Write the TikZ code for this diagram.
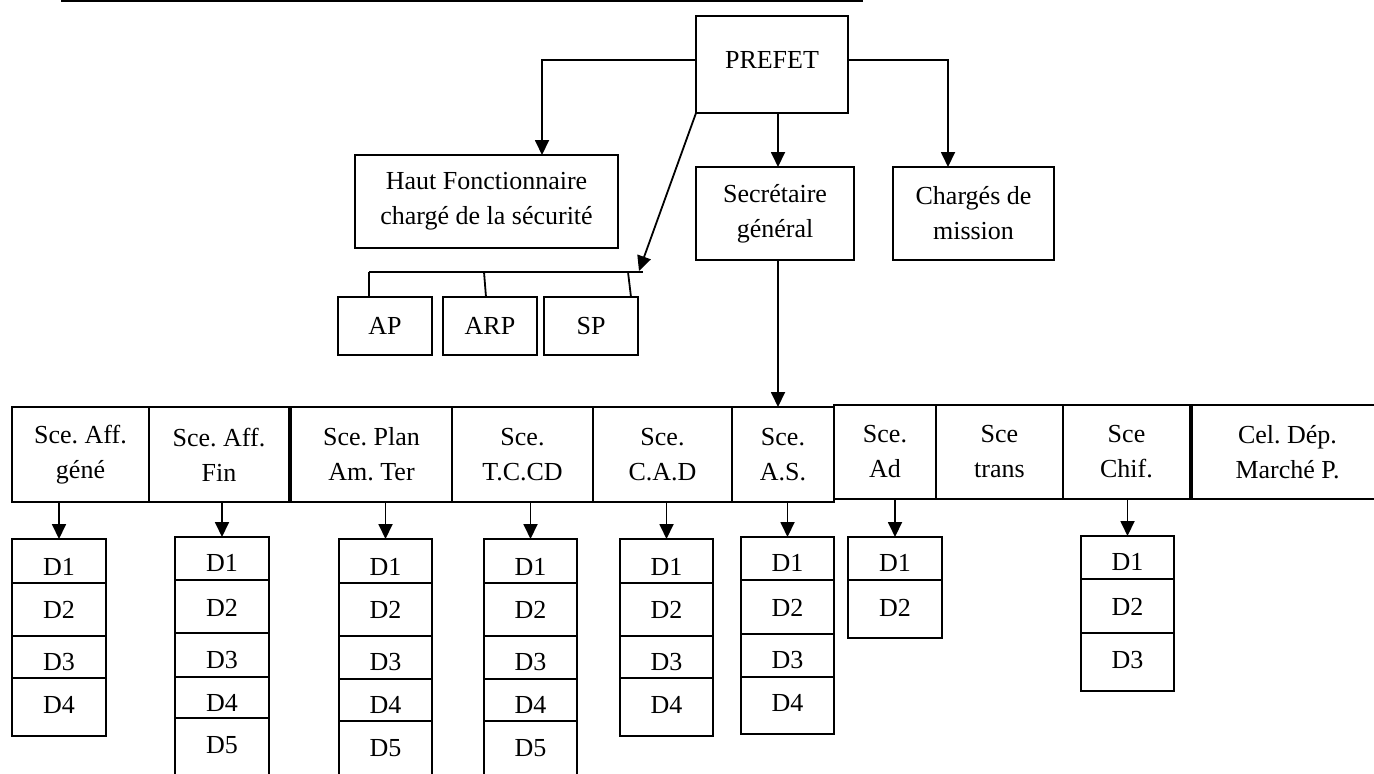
\documentclass[tikz,border=0pt]{standalone}
\usepackage{fontspec}
\setmainfont{Liberation Serif}
\usetikzlibrary{arrows.meta}
\frenchspacing
\tikzset{
  box/.style={draw, line width=0.9pt, inner sep=0pt, outer sep=0pt, align=center, font=\fontsize{13}{17.5}\selectfont\frenchspacing},
  lbl/.style={inner sep=0pt, outer sep=0pt, font=\fontsize{13}{17.5}\selectfont},
  conn/.style={line width=0.9pt},
  arr/.style={conn, -{Triangle[width=7pt,length=7.5pt]}},
}
% name, x1, y1, x2, y2, text   (coordinates in pixels)
\newcommand\bx[6]{%
  \pgfmathsetmacro\bxw{(#4-#2)*0.5}%
  \pgfmathsetmacro\bxh{(#5-#3)*0.5}%
  \node[box, minimum width=\bxw pt, minimum height=\bxh pt] (#1) at ({(#2+#4)/2},{(#3+#5)/2}) {#6};}
% name, x1, y1, x2, y2, text y, text
\newcommand\dcell[7]{%
  \bx{#1}{#2}{#3}{#4}{#5}{}%
  \node[lbl] (#1t) at ({(#2+#4)/2},#6) {#7};}
\begin{document}
\begin{tikzpicture}[x=0.5pt,y=-0.5pt]
\useasboundingbox (0,0) rectangle (1374,773);
\clip (0,0) rectangle (1374,773);

% title rule
\draw[conn] (61,1) -- (863,1);

% top level
\bx{prefet}{696}{16}{848}{113}{}
\node[lbl] (prefett) at (772,60) {PREFET};
\bx{haut}{355}{155}{618}{248}{Haut Fonctionnaire\\chargé de la sécurité}
\bx{sg}{696}{167}{854}{260}{Secrétaire\\général}
\bx{charges}{893}{167}{1054}{260}{Chargés de\\mission}
\bx{ap}{338}{297}{432}{355}{AP}
\bx{arp}{443}{297}{537}{355}{ARP}
\bx{sp}{544}{297}{638}{355}{SP}

\coordinate (hl) at (542,60);
\coordinate (hr) at (948,60);
\coordinate (mx) at (778,0);
\coordinate (barL) at (369,272);
\coordinate (barR) at (643,272);
\coordinate (barM) at (484,272);
\coordinate (barS) at (628,272);
\coordinate (bartip) at (639,271);

\draw[arr] (prefet.west |- hl) -| (hl |- haut.north);
\draw[arr] (prefet.east |- hr) -| (hr |- charges.north);
\draw[arr] (mx |- prefet.south) -- (mx |- sg.north);
\draw[arr] (prefet.south west) -- (bartip);
\draw[conn] (barL) -- (barR);
\draw[conn] (barL) -- (barL |- ap.north);
\draw[conn] (barM) -- (486,297);
\draw[conn] (barS) -- (631,297);

% services row
\bx{b1}{12}{407}{149}{502}{Sce. Aff.\\géné}
\bx{b2}{149}{407}{289}{502}{Sce. Aff.\\Fin}
\bx{b3}{291}{407}{452}{502}{Sce. Plan\\Am. Ter}
\bx{b4}{452}{407}{593}{502}{Sce.\\T.C.CD}
\bx{b5}{593}{407}{732}{502}{Sce.\\C.A.D}
\bx{b6}{732}{407}{834}{502}{Sce.\\A.S.}
\bx{b7}{834}{405}{936}{499}{Sce.\\Ad}
\bx{b8}{936}{405}{1063}{499}{Sce\\trans}
\bx{b9}{1063}{405}{1190}{499}{Sce\\Chif.}
\bx{b10}{1192}{405}{1383}{499}{Cel. Dép.\\Marché P.}

\draw[arr] (mx |- sg.south) -- (mx |- b6.north);

% divisions
\foreach \i/\a/\b/\t in {1/539/583/567,2/583/636/610,3/636/678/662,4/678/736/705}
  {\dcell{sA\i}{12}{\a}{106}{\b}{\t}{D\i}}
\foreach \i/\a/\b/\t in {1/537/580/563,2/580/633/608,3/633/677/660,4/677/718/703,5/718/800/745}
  {\dcell{sB\i}{175}{\a}{269}{\b}{\t}{D\i}}
\foreach \i/\a/\b/\t in {1/539/583/567,2/583/636/610,3/636/679/662,4/679/721/705,5/721/800/748}
  {\dcell{sC\i}{339}{\a}{432}{\b}{\t}{D\i}}
\foreach \i/\a/\b/\t in {1/539/583/567,2/583/636/610,3/636/679/662,4/679/721/705,5/721/800/748}
  {\dcell{sD\i}{484}{\a}{577}{\b}{\t}{D\i}}
\foreach \i/\a/\b/\t in {1/539/583/567,2/583/636/610,3/636/678/662,4/678/736/705}
  {\dcell{sE\i}{620}{\a}{713}{\b}{\t}{D\i}}
\foreach \i/\a/\b/\t in {1/537/580/563,2/580/634/608,3/634/677/660,4/677/734/703}
  {\dcell{sF\i}{741}{\a}{834}{\b}{\t}{D\i}}
\foreach \i/\a/\b/\t in {1/537/580/563,2/580/638/608}
  {\dcell{sG\i}{848}{\a}{942}{\b}{\t}{D\i}}
\foreach \i/\a/\b/\t in {1/536/579/562,2/579/633/607,3/633/691/660}
  {\dcell{sH\i}{1081}{\a}{1174}{\b}{\t}{D\i}}

\draw[arr] (sA1.north |- b1.south) -- (sA1.north);
\draw[arr] (sB1.north |- b2.south) -- (sB1.north);
\draw[arr] (sC1.north |- b3.south) -- (sC1.north);
\draw[arr] (sD1.north |- b4.south) -- (sD1.north);
\draw[arr] (sE1.north |- b5.south) -- (sE1.north);
\draw[arr] (sF1.north |- b6.south) -- (sF1.north);
\draw[arr] (sG1.north |- b7.south) -- (sG1.north);
\draw[arr] (sH1.north |- b9.south) -- (sH1.north);
\end{tikzpicture}
\end{document}
